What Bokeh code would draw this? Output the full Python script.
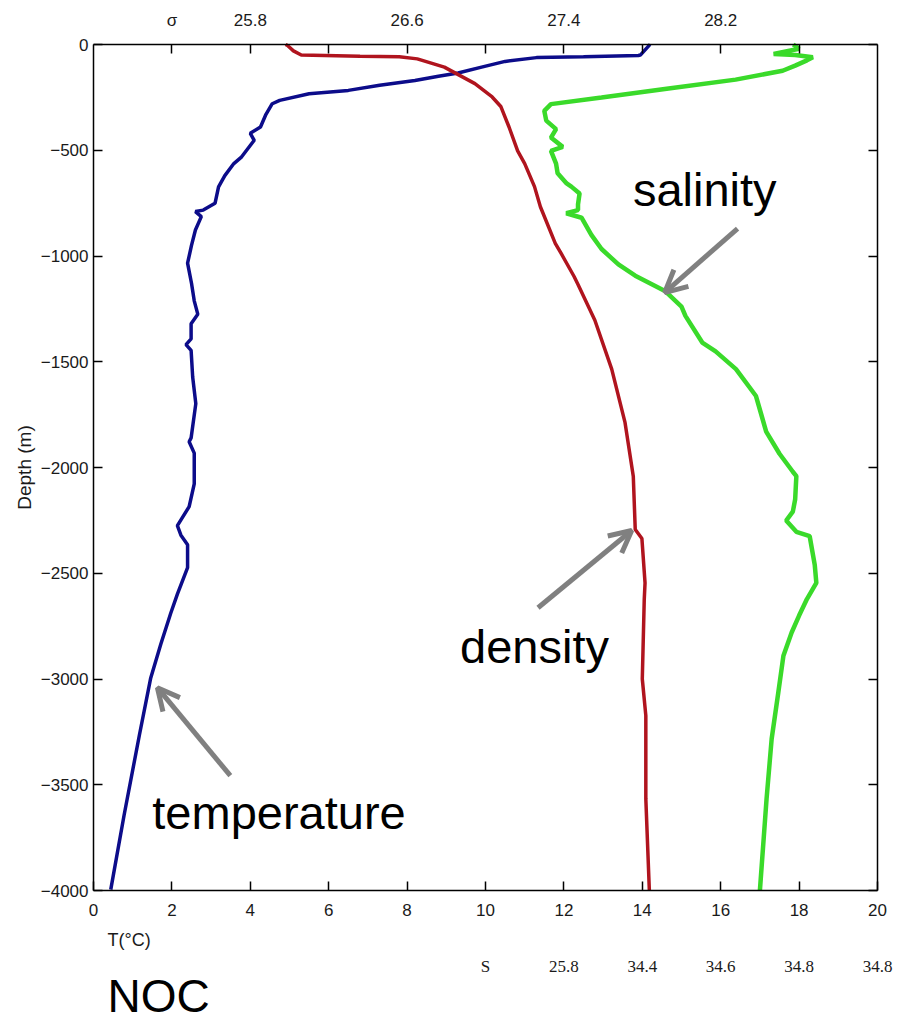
import math
from bokeh.plotting import figure
from bokeh.models import (Range1d, LinearAxis, FixedTicker, Label, LabelSet, Arrow,
                          OpenHead, ColumnDataSource)
from bokeh.embed import file_html
from bokeh.resources import INLINE

# ---------------- data (depth in metres, values in bottom-axis units) ----------------
temp_depth = [0, 5, 50, 52, 58, 62, 80, 107, 135, 150, 170, 193, 217, 233, 264, 280,
              330, 390, 420, 453, 531, 563, 620, 673, 751, 783, 790, 814, 877, 950,
              1034, 1129, 1212, 1275, 1320, 1392, 1419, 1446, 1572, 1698, 1860, 1878,
              1932, 2077, 2185, 2275, 2320, 2365, 2473, 2599, 2689, 2833, 2995, 3266,
              3644, 3996]
temp_T = [14.2, 14.17, 13.95, 13.9, 12.5, 11.3, 10.5, 9.9, 9.3, 8.8, 8.2, 7.3, 6.5, 5.5,
          4.75, 4.56, 4.4, 4.26, 4.0, 4.1, 3.78, 3.58, 3.35, 3.19, 3.1, 2.8, 2.6, 2.75,
          2.6, 2.5, 2.4, 2.5, 2.57, 2.66, 2.49, 2.49, 2.36, 2.49, 2.53, 2.61, 2.49, 2.44,
          2.57, 2.57, 2.44, 2.14, 2.23, 2.40, 2.40, 2.14, 1.97, 1.72, 1.46, 1.17, 0.78, 0.44]

dens_depth = [0, 5, 30, 50, 55, 58, 68, 107, 146, 185, 248, 293, 390, 503, 563, 672,
              767, 940, 988, 1097, 1135, 1304, 1535, 1788, 2041, 2293, 2336, 2546, 2622,
              3000, 3173, 3567, 4000]
dens_x = [4.9, 4.95, 5.1, 5.3, 6.8, 7.8, 8.26, 8.95, 9.34, 9.73, 10.17, 10.39, 10.6,
          10.82, 11.0, 11.25, 11.4, 11.78, 11.93, 12.26, 12.36, 12.79, 13.22, 13.56,
          13.77, 13.82, 13.99, 14.07, 14.05, 14.0, 14.09, 14.09, 14.18]

sal_depth = [0, 20, 45, 50, 60, 75, 100, 124, 166, 208, 251, 282, 314, 360, 400, 440,
             484, 503, 563, 609, 657, 672, 704, 756, 783, 798, 819, 900, 967, 1040, 1093,
             1167, 1239, 1283, 1409, 1451, 1535, 1662, 1830, 1935, 2020, 2041, 2150, 2209,
             2251, 2304, 2325, 2462, 2546, 2622, 2700, 2780, 2890, 3063, 3283, 3567, 4000]
sal_x = [17.85, 18.0, 17.35, 17.9, 18.35, 18.2, 17.9, 17.58, 16.38, 14.67, 12.96, 11.67,
         11.5, 11.55, 11.8, 11.67, 11.97, 11.67, 11.8, 11.84, 12.07, 12.19, 12.4, 12.36,
         12.36, 12.06, 12.45, 12.7, 12.96, 13.39, 13.82, 14.59, 15.0, 15.1, 15.53, 15.87,
         16.39, 16.9, 17.16, 17.5, 17.84, 17.93, 17.9, 17.84, 17.67, 17.93, 18.27, 18.4,
         18.44, 18.2, 18.0, 17.81, 17.6, 17.47, 17.3, 17.17, 17.0]

T_MIN, T_MAX = 0, 20
D_MAX = 4000
t_ticks = [0, 2, 4, 6, 8, 10, 12, 14, 16, 18, 20]
depth_ticks = [0, -500, -1000, -1500, -2000, -2500, -3000, -3500, -4000]
sigma_ticks = [2, 4, 6, 8, 10, 12, 14, 16, 18]
sigma_labels = ["σ", "25.8", "", "26.6", "", "27.4", "", "28.2", ""]
s_ticks = [10, 12, 14, 16, 18, 20]
s_labels = ["S", "25.8", "34.4", "34.6", "34.8", "34.8"]

# annotations: text, x, depth of label anchor
ann_text = ["salinity", "density", "temperature"]
ann_x = [13.76, 9.35, 1.50]
ann_depth = [686, 2846, 3631]
# arrows: (x_tail, depth_tail, x_tip, depth_tip)
arrows = [(16.43, 870, 14.57, 1173), (11.34, 2663, 13.73, 2298), (3.49, 3457, 1.63, 3041)]
# texts outside the box: (x, depth of anchor)
ylabel_pos = (-1.75, 2000)
t_title_pos = (0.36, 4236)
s_row_depth = 4360
noc_pos = (0.36, 4500)

FONT = "Liberation Sans"
TXT = "#1a1a1a"

# ---------------- layout constants (pixels) ----------------
LEFT, TOP = 93, 44               # where the data box starts on the canvas
BOX_W, BOX_H = 784, 846          # the data box (0..20, 0..-4000)
W, H = 900, 1022                 # whole canvas = frame; axes are fixed inside it
px_x = BOX_W / (T_MAX - T_MIN)
px_y = BOX_H / D_MAX

p = figure(frame_width=W, frame_height=H,
           x_range=Range1d(T_MIN - LEFT / px_x, T_MIN + (W - LEFT) / px_x),
           y_range=Range1d(-(H - TOP) / px_y, TOP / px_y),
           output_backend="svg", toolbar_location=None,
           min_border=0, min_border_left=0, min_border_right=0, min_border_top=0,
           min_border_bottom=0, background_fill_color="white",
           border_fill_color="white")
p.xgrid.visible = False
p.ygrid.visible = False
p.outline_line_color = None

p.line(temp_T, [-d for d in temp_depth], line_color="#0c0c8a", line_width=3.5)
p.line(dens_x, [-d for d in dens_depth], line_color="#b0141e", line_width=3.5)
p.line(sal_x, [-d for d in sal_depth], line_color="#3ada2a", line_width=4.5)

top = LinearAxis()
right = LinearAxis()
p.add_layout(top, "above")
p.add_layout(right, "right")
bottom = p.below[0]
left = p.left[0]


def style(ax):
    ax.axis_line_color = "black"
    ax.axis_line_width = 1.5
    ax.major_tick_line_color = "black"
    ax.major_tick_line_width = 1.5
    ax.major_tick_in = 9
    ax.major_tick_out = 0
    ax.minor_tick_in = 0
    ax.minor_tick_out = 0
    ax.major_label_text_font = FONT
    ax.major_label_text_font_size = "17px"
    ax.major_label_text_color = TXT


for ax in (bottom, left, top, right):
    style(ax)

bottom.ticker = FixedTicker(ticks=t_ticks)
bottom.bounds = (T_MIN, T_MAX)
bottom.fixed_location = -D_MAX
bottom.major_label_standoff = 13

left.ticker = FixedTicker(ticks=depth_ticks)
left.bounds = (-D_MAX, 0)
left.fixed_location = T_MIN
left.major_label_overrides = {t: str(t).replace("-", "\u2212") for t in depth_ticks}
left.major_label_standoff = 5

top.ticker = FixedTicker(ticks=sigma_ticks)
top.bounds = (T_MIN, T_MAX)
top.fixed_location = 0
top.major_label_overrides = dict(zip(sigma_ticks, sigma_labels))
top.major_label_standoff = 15

right.ticker = FixedTicker(ticks=depth_ticks)
right.bounds = (-D_MAX, 0)
right.fixed_location = T_MAX
right.major_label_overrides = {t: "" for t in depth_ticks}

# depth axis title
p.add_layout(Label(x=ylabel_pos[0], y=-ylabel_pos[1], text="Depth (m)", angle=math.pi / 2,
                   text_align="center", text_baseline="middle", text_font=FONT,
                   text_font_size="19px", text_color=TXT))

for t, x, d in zip(ann_text, ann_x, ann_depth):
    p.add_layout(Label(x=x, y=-d, text=t, text_font=FONT, text_font_size="47px",
                       text_color="black", text_baseline="alphabetic"))

for xs, ds, xe, de in arrows:
    p.add_layout(Arrow(end=OpenHead(size=22, line_color="#808080", line_width=5),
                       x_start=xs, y_start=-ds, x_end=xe, y_end=-de,
                       line_color="#808080", line_width=5))

# texts under the box: temperature axis title, salinity scale row, source mark
p.add_layout(Label(x=t_title_pos[0], y=-t_title_pos[1], text="T(°C)", text_font=FONT,
                   text_font_size="18px", text_color=TXT, text_baseline="alphabetic"))
srow = ColumnDataSource(dict(x=s_ticks, y=[-s_row_depth] * len(s_ticks), t=s_labels))
p.add_layout(LabelSet(x="x", y="y", text="t", source=srow, text_align="center",
                      text_baseline="middle", text_font=FONT, text_font_size="17px",
                      text_color=TXT))
p.add_layout(Label(x=noc_pos[0], y=-noc_pos[1], text="NOC", text_font=FONT,
                   text_font_size="46px", text_color="black",
                   text_baseline="alphabetic"))

open("out.html", "w").write(file_html(p, INLINE))
